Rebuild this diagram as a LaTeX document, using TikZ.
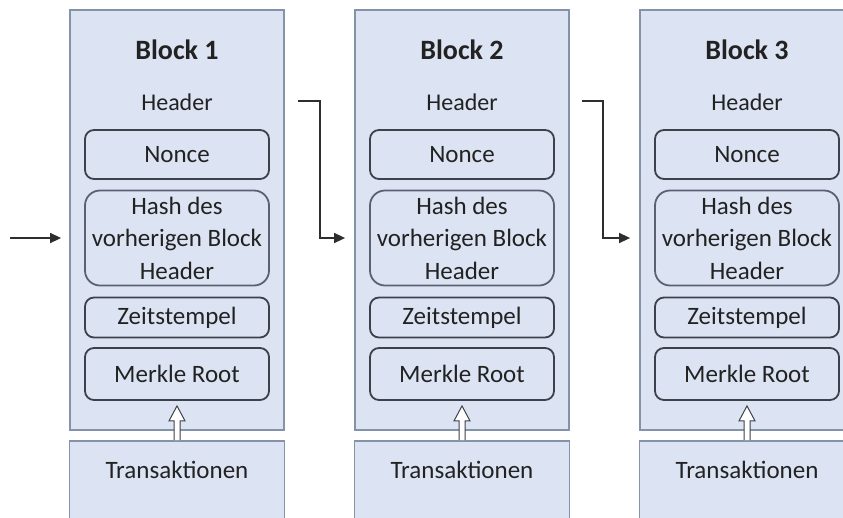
\documentclass[tikz,border=0pt]{standalone}
\usepackage{fontspec}
\setmainfont{Carlito}
\usetikzlibrary{arrows.meta,calc}
\definecolor{blockfill}{HTML}{DCE3F2}
\definecolor{blockline}{HTML}{8593A9}
\definecolor{fieldline}{HTML}{3C414B}
\definecolor{hashline}{HTML}{5A6170}
\definecolor{arrowgray}{HTML}{2E2E2E}
\definecolor{textgray}{HTML}{222222}

\begin{document}
\begin{tikzpicture}[x=1pt,y=-1pt,
  every node/.style={text=textgray},
  blockbox/.style={draw=blockline, line width=1.8pt, fill=blockfill,
    minimum width=214pt, minimum height=420pt, inner sep=0pt},
  txbox/.style={draw=blockline, line width=1.8pt, fill=blockfill,
    minimum width=215pt, inner sep=0pt, anchor=north,
    text height=38pt, text depth=80pt, font=\fontsize{25}{30}\selectfont},
  field/.style={draw=fieldline, line width=1.8pt, fill=blockfill,
    rounded corners=9pt, minimum width=184pt, inner sep=0pt, align=center,
    font=\fontsize{25}{32.5}\selectfont},
  title/.style={font=\bfseries\fontsize{28}{32}\selectfont},
  plain/.style={font=\fontsize{24}{29}\selectfont},
  link/.style={draw=arrowgray, line width=1.5pt,
    -{Triangle[length=11pt,width=10pt]}},
  hollow/.style={draw=fieldline, line width=1pt, fill=white, line join=miter},
]
\useasboundingbox (0,0) rectangle (843,517);
\clip (0,0) rectangle (843,517);

\foreach \i in {1,2,3}{
  \pgfmathsetmacro\cx{177+285*(\i-1)}
  % block body with its header fields
  \node[blockbox] (b\i) at (\cx,220) {};
  \node[title] (title\i) at (\cx,50) {Block \i};
  \node[plain] (hd\i) at (\cx,102) {Header};
  \node[field, minimum height=49pt] (n\i) at (\cx,154.5) {Nonce};
  \node[field, draw=hashline, minimum height=95pt, rounded corners=15pt]
    (h\i) at (\cx,238) {Hash des\\vorherigen Block\\Header};
  \node[field, minimum height=40pt] (z\i) at (\cx,317.5) {Zeitstempel};
  \node[field, minimum height=52pt] (m\i) at (\cx,374) {Merkle Root};
  % transactions below the block
  \node[txbox] (t\i) at (\cx,440) {Transaktionen};
  % hollow arrow from the transactions up to the Merkle root
  \draw[hollow] ($(t\i.north)+(-3,0)$) -- ($(m\i.south)+(-3,20)$)
    -- ($(m\i.south)+(-8,20)$) -- ($(m\i.south)+(0,5)$)
    -- ($(m\i.south)+(8,20)$) -- ($(m\i.south)+(3,20)$)
    -- ($(t\i.north)+(3,0)$);
}

% chain links
\coordinate (in) at (10,238);
\coordinate (o1) at (298,101);
\coordinate (o2) at (582,101);
\draw[link] (in) -- ($(b1.west |- h1.west)+(-8,0)$);
\draw[link] (o1) -- ++(22,0) |- ($(b2.west |- h2.west)+(-9,0)$);
\draw[link] (o2) -- ++(21,0) |- ($(b3.west |- h3.west)+(-9,0)$);
\end{tikzpicture}
\end{document}
